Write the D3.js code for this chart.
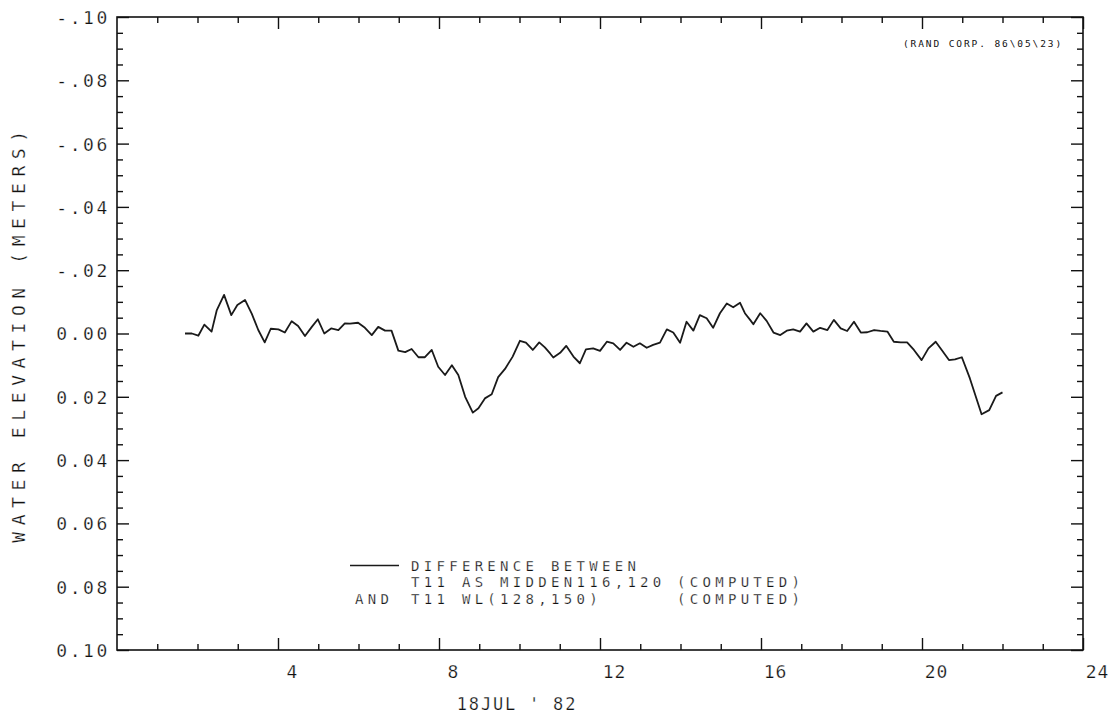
<!DOCTYPE html>
<html>
<head>
<meta charset="utf-8">
<script src="https://cdn.jsdelivr.net/npm/d3@7"></script>
<style>
  html, body { margin: 0; padding: 0; background: #fff; }
  svg { display: block; }
  text {
    font-family: "DejaVu Sans Mono", "Liberation Mono", monospace;
    fill: #111; white-space: pre;
    /* thin the glyphs slightly, pen-plotter style */
    stroke: #fff; stroke-width: 0.25px; paint-order: fill stroke;
  }
</style>
</head>
<body>
<svg id="chart" width="1117" height="722"></svg>
<script>
// Hours after 00:00 on 18 JUL 82
const hours = [
  1.69, 1.86, 2.02, 2.17, 2.35, 2.48, 2.66, 2.84, 2.99, 3.18, 3.35, 3.51, 3.67, 3.82,
  4.01, 4.17, 4.34, 4.50, 4.67, 4.84, 4.99, 5.15, 5.32, 5.50, 5.66, 5.79, 5.99, 6.16,
  6.33, 6.49, 6.66, 6.82, 6.99, 7.16, 7.32, 7.49, 7.65, 7.82, 7.98, 8.15, 8.32, 8.48,
  8.65, 8.84, 8.98, 9.14, 9.31, 9.47, 9.64, 9.83, 10.01, 10.16, 10.33, 10.49, 10.63,
  10.76, 10.84, 11.01, 11.16, 11.34, 11.50, 11.65, 11.83, 12.00, 12.17, 12.33, 12.50,
  12.66, 12.83, 12.99, 13.16, 13.32, 13.49, 13.66, 13.82, 13.99, 14.15, 14.32, 14.48,
  14.65, 14.81, 14.98, 15.15, 15.31, 15.48, 15.60, 15.73, 15.81, 15.98, 16.14, 16.31,
  16.48, 16.64, 16.80, 16.97, 17.13, 17.30, 17.47, 17.65, 17.81, 17.98, 18.14, 18.31,
  18.48, 18.64, 18.81, 18.97, 19.14, 19.30, 19.47, 19.63, 19.80, 19.99, 20.16, 20.34,
  20.49, 20.67, 20.82, 20.99, 21.19, 21.48, 21.67, 21.84, 22.00
];

// Water elevation difference (m); the axis runs downward, so positive values plot low
const difference = [
  0.0000, 0.0000, 0.0007, -0.0028, -0.0006, -0.0074, -0.0122, -0.0058, -0.0090, -0.0106,
  -0.0062, -0.0011, 0.0028, -0.0015, -0.0013, -0.0003, -0.0039, -0.0024, 0.0008, -0.0021,
  -0.0045, 0.0000, -0.0016, -0.0011, -0.0032, -0.0031, -0.0034, -0.0018, 0.0005, -0.0021,
  -0.0009, -0.0009, 0.0054, 0.0059, 0.0049, 0.0075, 0.0075, 0.0052, 0.0105, 0.0131,
  0.0100, 0.0131, 0.0200, 0.0250, 0.0236, 0.0205, 0.0192, 0.0138, 0.0112, 0.0073,
  0.0023, 0.0029, 0.0052, 0.0028, 0.0044, 0.0063, 0.0076, 0.0061, 0.0039, 0.0073,
  0.0094, 0.0050, 0.0047, 0.0055, 0.0026, 0.0031, 0.0052, 0.0029, 0.0042, 0.0031,
  0.0045, 0.0036, 0.0029, -0.0013, -0.0003, 0.0029, -0.0037, -0.0009, -0.0058, -0.0048,
  -0.0018, -0.0064, -0.0095, -0.0083, -0.0097, -0.0064, -0.0043, -0.0029, -0.0064, -0.0040,
  -0.0003, 0.0005, -0.0009, -0.0013, -0.0006, -0.0032, -0.0006, -0.0018, -0.0011, -0.0043,
  -0.0016, -0.0008, -0.0037, -0.0003, -0.0004, -0.0011, -0.0008, -0.0006, 0.0026, 0.0028,
  0.0028, 0.0052, 0.0084, 0.0047, 0.0026, 0.0052, 0.0084, 0.0082, 0.0075, 0.0142,
  0.0255, 0.0242, 0.0197, 0.0186
];

const xMajorTicks = [4, 8, 12, 16, 20, 24];
const xTickLabels = ["4", "8", "12", "16", "20", "24"];
const yMajorTicks = [-0.10, -0.08, -0.06, -0.04, -0.02, 0.00, 0.02, 0.04, 0.06, 0.08, 0.10];
const yTickLabels = ["-.10", "-.08", "-.06", "-.04", "-.02", "0.00", "0.02", "0.04", "0.06", "0.08", "0.10"];

const yTitle = "WATER ELEVATION (METERS)";
const xTitle = "18JUL ' 82";
const stamp = "(RAND CORP. 86\\05\\23)";
const legendLines = [
  ["", "DIFFERENCE BETWEEN", ""],
  ["", "T11 AS MIDDEN116,120", "(COMPUTED)"],
  ["AND", "T11 WL(128,150)", "(COMPUTED)"]
];

const svg = d3.select("#chart");
const plotLeft = 117, plotRight = 1083, plotTop = 17, plotBottom = 650;

const x = d3.scaleLinear().domain([0, 24]).range([plotLeft, plotRight]);
const y = d3.scaleLinear().domain([-0.10, 0.10]).range([plotTop, plotBottom]);

const ink = "#111";

// minor ticks: every hour on x, every 0.005 m on y
const xMinor = d3.range(1, 24).filter(h => h % 4 !== 0);
const yMinor = d3.range(-19, 20).filter(k => k % 4 !== 0).map(k => k * 0.005);

function styleAxis(g) {
  g.select(".domain").remove();
  g.selectAll("line").attr("stroke", ink).attr("stroke-width", 1.4);
}

// bottom axis
svg.append("g").attr("transform", `translate(0,${plotBottom})`)
  .call(d3.axisBottom(x).tickValues(xMajorTicks).tickSize(-12).tickFormat((d, i) => xTickLabels[i]))
  .call(styleAxis)
  .call(g => g.selectAll("text")
    .attr("x", 14).attr("y", 28).attr("dy", null)
    .style("font-size", "18px").style("letter-spacing", "1px")
    .attr("text-anchor", "middle"));
svg.append("g").attr("transform", `translate(0,${plotBottom})`)
  .call(d3.axisBottom(x).tickValues(xMinor).tickSize(-6).tickFormat(""))
  .call(styleAxis);

// top axis
svg.append("g").attr("transform", `translate(0,${plotTop})`)
  .call(d3.axisTop(x).tickValues(xMajorTicks).tickSize(-12).tickFormat(""))
  .call(styleAxis);
svg.append("g").attr("transform", `translate(0,${plotTop})`)
  .call(d3.axisTop(x).tickValues(xMinor).tickSize(-6).tickFormat(""))
  .call(styleAxis);

// left axis
svg.append("g").attr("transform", `translate(${plotLeft},0)`)
  .call(d3.axisLeft(y).tickValues(yMajorTicks).tickSize(-12).tickFormat((d, i) => yTickLabels[i]))
  .call(styleAxis)
  .call(g => g.selectAll("text")
    .attr("x", -7).attr("dy", "0.36em")
    .style("font-size", "18px").style("letter-spacing", "2.6px")
    .attr("text-anchor", "end"));
svg.append("g").attr("transform", `translate(${plotLeft},0)`)
  .call(d3.axisLeft(y).tickValues(yMinor).tickSize(-6).tickFormat(""))
  .call(styleAxis);

// right axis
svg.append("g").attr("transform", `translate(${plotRight},0)`)
  .call(d3.axisRight(y).tickValues(yMajorTicks).tickSize(-12).tickFormat(""))
  .call(styleAxis);
svg.append("g").attr("transform", `translate(${plotRight},0)`)
  .call(d3.axisRight(y).tickValues(yMinor).tickSize(-6).tickFormat(""))
  .call(styleAxis);

// frame
svg.append("rect")
  .attr("x", plotLeft).attr("y", plotTop)
  .attr("width", plotRight - plotLeft).attr("height", plotBottom - plotTop)
  .attr("fill", "none").attr("stroke", ink).attr("stroke-width", 1.6);

// series
const pts = hours.map((h, i) => [h, difference[i]]);
svg.append("path")
  .datum(pts)
  .attr("fill", "none")
  .attr("stroke", "#1a1a1a")
  .attr("stroke-width", 1.8)
  .attr("stroke-linejoin", "round")
  .attr("d", d3.line().x(d => x(d[0])).y(d => y(d[1])));

// axis titles
svg.append("text")
  .attr("transform", `translate(25,${(plotTop + plotBottom) / 2}) rotate(-90)`)
  .attr("text-anchor", "middle")
  .style("font-size", "18px").style("letter-spacing", "6.6px")
  .text(yTitle);

svg.append("text")
  .attr("x", 517).attr("y", 710)
  .attr("text-anchor", "middle")
  .style("font-size", "17px").style("letter-spacing", "1.8px")
  .text(xTitle);

// run stamp
svg.append("text")
  .attr("x", 903).attr("y", 47)
  .style("font-size", "9.5px").style("letter-spacing", "1.9px")
  .style("stroke-width", "0px")
  .text(stamp);

// legend
const legX = [355, 411, 677];
const legY0 = 571, legDy = 16.3;
svg.append("line")
  .attr("x1", 350).attr("x2", 399)
  .attr("y1", legY0 - 5.5).attr("y2", legY0 - 5.5)
  .attr("stroke", "#1a1a1a").attr("stroke-width", 1.5);
legendLines.forEach((row, r) => {
  row.forEach((s, c) => {
    if (!s) return;
    svg.append("text")
      .attr("x", legX[c]).attr("y", legY0 + r * legDy)
      .style("font-size", "14px").style("letter-spacing", "4.3px")
      .text(s);
  });
});
</script>
</body>
</html>
